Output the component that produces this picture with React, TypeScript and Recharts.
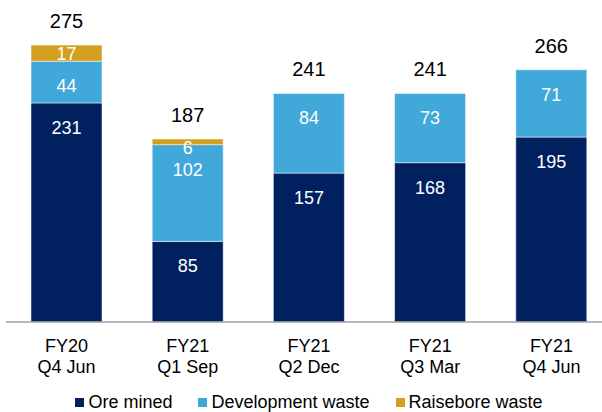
import { BarChart, Bar, XAxis, YAxis, Legend, LabelList } from 'recharts';

const categories = ['FY20\nQ4 Jun', 'FY21\nQ1 Sep', 'FY21\nQ2 Dec', 'FY21\nQ3 Mar', 'FY21\nQ4 Jun'];
const oreMined = [231, 85, 157, 168, 195];
const developmentWaste = [44, 102, 84, 73, 71];
const raiseboreWaste = [17, 6, 0, 0, 0];
const totals = [275, 187, 241, 241, 266];

const COLORS = { ore: '#002060', dev: '#41A8DA', raise: '#D4A020' };
const FONT = '"Liberation Sans", Arial, sans-serif';

const data = categories.map((name, i) => ({
  name,
  ore: oreMined[i],
  dev: developmentWaste[i],
  raise: raiseboreWaste[i],
  total: totals[i],
}));

const legendItems = [
  { label: 'Ore mined', color: COLORS.ore },
  { label: 'Development waste', color: COLORS.dev },
  { label: 'Raisebore waste', color: COLORS.raise },
];

const box = (p: any) => {
  const vb = p.viewBox && p.viewBox.width != null ? p.viewBox : p;
  return { x: Number(vb.x), y: Number(vb.y), width: Number(vb.width), height: Number(vb.height) };
};

const segLabel = (offset: number) => (props: any) => {
  if (!props.value) return null;
  const { x, y, width } = box(props);
  return (
    <text x={x + width / 2} y={y + offset} fill="#fff" fontSize={18} fontFamily={FONT}
      textAnchor="middle" dominantBaseline="central">
      {props.value}
    </text>
  );
};

// drawn from the development segment; the raisebore slice above it is
// scaled with the same px-per-unit as that segment
const totalLabel = (props: any) => {
  const { x, y, width, height } = box(props);
  const i = props.index;
  const pxPerUnit = height / developmentWaste[i];
  const top = y - raiseboreWaste[i] * pxPerUnit;
  return (
    <text x={x + width / 2} y={top - 24} fill="#000" fontSize={20} fontFamily={FONT}
      textAnchor="middle" dominantBaseline="central">
      {props.value}
    </text>
  );
};

const Tick = ({ x, y, payload }: any) => {
  const lines = String(payload.value).split('\n');
  return (
    <g>
      {lines.map((l, i) => (
        <text key={i} x={x} y={y + 30 + i * 21} textAnchor="middle" fontSize={18}
          fontFamily={FONT} fill="#000">
          {l}
        </text>
      ))}
    </g>
  );
};

const LegendContent = () => (
  <div style={{ display: 'flex', justifyContent: 'center', paddingTop: 10, fontFamily: FONT, fontSize: 18, lineHeight: '20px', color: '#000' }}>
    {legendItems.map((it, i) => (
      <div key={it.label} style={{ display: 'flex', alignItems: 'center', marginLeft: i ? 26 : 0 }}>
        <span style={{ width: 9, height: 9, background: it.color, display: 'inline-block', marginRight: 4 }} />
        <span>{it.label}</span>
      </div>
    ))}
  </div>
);

export default function App() {
  return (
    <div style={{ position: 'absolute', left: 0, top: 0, width: 602, height: 412, overflow: 'hidden', background: '#fff' }}>
      <BarChart width={612} height={412} data={data} margin={{ top: 10, right: 0, left: 6, bottom: 0 }}>
        <XAxis dataKey="name" tickLine={false} tickSize={0} tickMargin={0} height={60} interval={0}
          axisLine={{ stroke: '#A0A0A0', strokeWidth: 1.5 }} tick={<Tick />} />
        <YAxis hide domain={[0, 329]} />
        <Legend height={30} content={<LegendContent />} />
        <Bar dataKey="ore" stackId="a" fill={COLORS.ore} barSize={71} stroke="#ffffff" strokeWidth={0.5} isAnimationActive={false}>
          <LabelList dataKey="ore" content={segLabel(25)} />
        </Bar>
        <Bar dataKey="dev" stackId="a" fill={COLORS.dev} barSize={71} stroke="#ffffff" strokeWidth={0.5} isAnimationActive={false}>
          <LabelList dataKey="dev" content={segLabel(25)} />
          <LabelList dataKey="total" content={totalLabel} />
        </Bar>
        <Bar dataKey="raise" stackId="a" fill={COLORS.raise} barSize={71} stroke="#ffffff" strokeWidth={0.5} isAnimationActive={false}>
          <LabelList dataKey="raise" content={segLabel(9)} />
        </Bar>
      </BarChart>
    </div>
  );
}
